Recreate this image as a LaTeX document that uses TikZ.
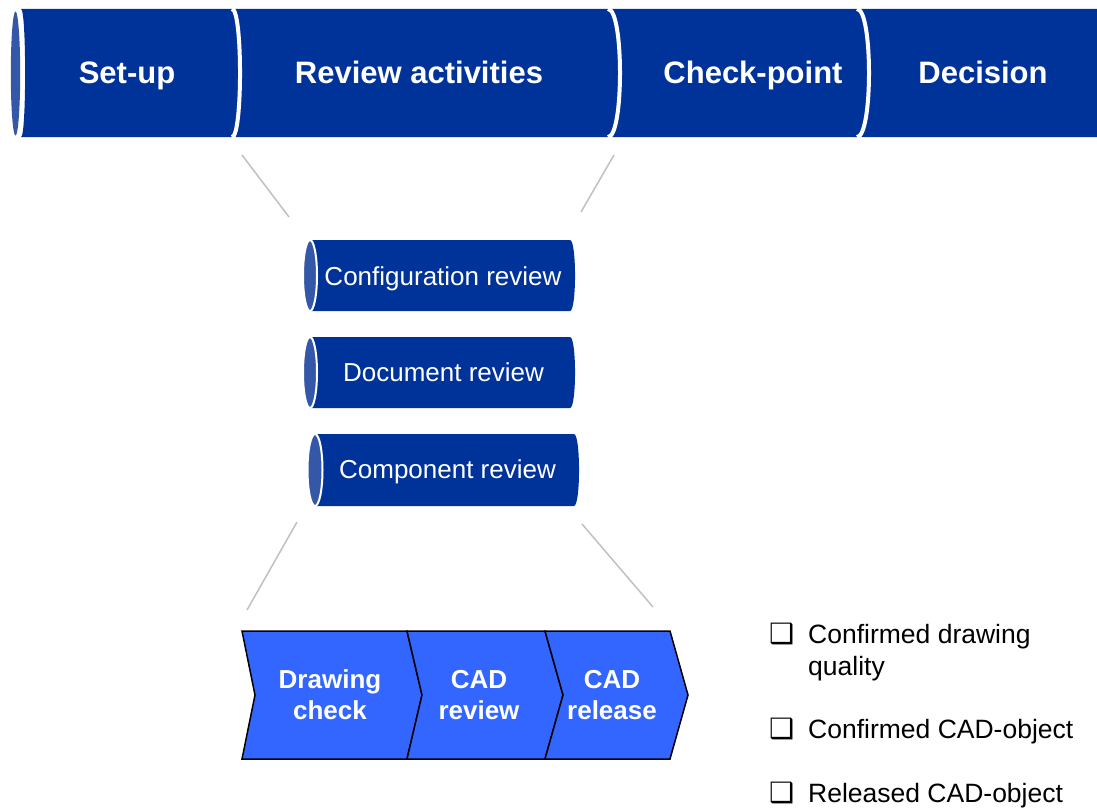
\documentclass[tikz,border=0pt]{standalone}
\usepackage{fontspec}
\setmainfont{Liberation Sans}
\newfontfamily\symfont{DejaVu Sans}

\definecolor{barblue}{HTML}{003399}
\definecolor{capblue}{HTML}{3557A8}
\definecolor{stepblue}{HTML}{3366FF}
\definecolor{zoomgrey}{HTML}{C0C0C0}

\tikzset{
  phaselabel/.style={text=white, inner sep=0pt, text height=22.2pt, text depth=0pt,
    font=\fontsize{31}{37}\selectfont\bfseries},
  reviewlabel/.style={text=white, inner sep=0pt, text height=18.6pt, text depth=0pt,
    font=\fontsize{26}{31}\selectfont},
  endcap/.style={fill=capblue, draw=white, line width=2pt},
  splitline/.style={draw=white, line width=4pt},
  chevron/.style={fill=stepblue, draw=black, line width=1.5pt, line join=miter},
  steptext/.style={text=white, align=center, inner sep=0pt,
    font=\fontsize{26}{31}\selectfont\bfseries},
  zoomline/.style={draw=zoomgrey, line width=1.5pt},
  checkbox/.style={anchor=base west, inner sep=0pt, font=\symfont\fontsize{28}{28}\selectfont},
  checkitem/.style={anchor=base west, inner sep=0pt, align=left,
    font=\fontsize{26.5}{32}\selectfont},
}

\begin{document}
\begin{tikzpicture}[x=1pt, y=-1pt]
    \useasboundingbox (0,0) rectangle (1097,808);

    % Phase bar
    \fill[barblue] (21,9) -- (1097,9) -- (1097,137) -- (21,137) .. controls (26.5,137) and (26.5,9) .. (21,9);
    \fill[capblue] (15.5,73.5) ellipse [x radius=4.7, y radius=62];
    \draw[splitline] (232,9) .. controls (242.7,9) and (242.7,137) .. (232,137);
    \draw[splitline] (608,9) .. controls (624,9) and (624,137) .. (608,137);
    \draw[splitline] (857,9) .. controls (873,9) and (873,137) .. (857,137);
    \node[phaselabel] (setup) at (127,72.5) {Set-up};
    \node[phaselabel] (activities) at (419,72.5) {Review activities};
    \node[phaselabel] (checkpoint) at (753,72.5) {Check-point};
    \node[phaselabel] (decision) at (983,72.5) {Decision};

    % Review activities
    \fill[barblue] (310,240) -- (570,240) .. controls (576.7,240) and (576.7,311) .. (570,311) -- (310,311) -- cycle;
    \filldraw[endcap] (310,275.5) ellipse [x radius=7, y radius=35.5];
    \node[reviewlabel] (config) at (443,276) {Configuration review};

    \fill[barblue] (310,337) -- (570,337) .. controls (576.7,337) and (576.7,408) .. (570,408) -- (310,408) -- cycle;
    \filldraw[endcap] (310,372.5) ellipse [x radius=7, y radius=35.5];
    \node[reviewlabel] (document) at (443.5,372.5) {Document review};

    \fill[barblue] (315,434) -- (574,434) .. controls (580.7,434) and (580.7,506) .. (574,506) -- (315,506) -- cycle;
    \filldraw[endcap] (315,470) ellipse [x radius=7.5, y radius=36];
    \node[reviewlabel] (component) at (447.5,469) {Component review};

    % Zoom lines
    \coordinate (zoomA) at (242,155);
    \coordinate (zoomB) at (289,217);
    \coordinate (zoomC) at (614,155);
    \coordinate (zoomD) at (581,212);
    \coordinate (zoomE) at (297,522);
    \coordinate (zoomF) at (247,610);
    \coordinate (zoomG) at (582,524);
    \coordinate (zoomH) at (653,607);
    \draw[zoomline] (zoomA) -- (zoomB);
    \draw[zoomline] (zoomC) -- (zoomD);
    \draw[zoomline] (zoomE) -- (zoomF);
    \draw[zoomline] (zoomG) -- (zoomH);

    % Steps
    \filldraw[chevron] (242,631) -- (407,631) -- (422,695) -- (407,759) -- (242,759) -- (255,695) -- cycle;
    \filldraw[chevron] (407,631) -- (545,631) -- (563,695) -- (545,759) -- (407,759) -- (422,695) -- cycle;
    \filldraw[chevron] (545,631) -- (670,631) -- (688,695) -- (670,759) -- (545,759) -- (563,695) -- cycle;
    \node[steptext] (drawing) at (330,695) {Drawing\\check};
    \node[steptext] (cadreview) at (479,695) {CAD\\review};
    \node[steptext] (cadrelease) at (612,695) {CAD\\release};

    % Checklist
    \node[checkbox] (box1) at (769,643) {❑};
    \node[checkitem] (item1) at (808,675) {Confirmed drawing\\quality};
    \node[checkbox] (box2) at (769,738) {❑};
    \node[checkitem] (item2) at (808,738) {Confirmed CAD-object};
    \node[checkbox] (box3) at (769,802) {❑};
    \node[checkitem] (item3) at (808,802) {Released CAD-object};
\end{tikzpicture}
\end{document}
